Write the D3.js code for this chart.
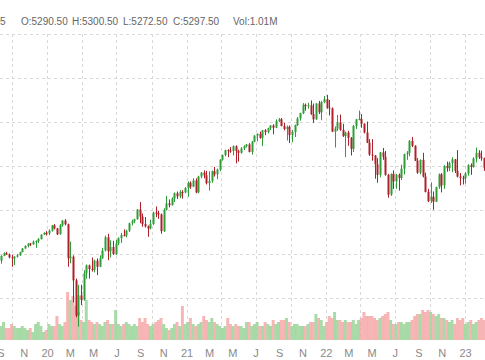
<!DOCTYPE html>
<html><head><meta charset="utf-8">
<script src="https://cdn.jsdelivr.net/npm/d3@7"></script>
<style>body{margin:0;background:#fff}svg{display:block}</style>
</head><body><svg id="c" width="485" height="360"></svg>
<script>
// Weekly bars starting Monday 2019-08-26
const firstWeek = "2019-08-26";
const open = [2866,2924,2979,3009,2995,2962,2952,2970,2985,3021,3062,3092,3119,3109,3141,3146,3169,3220,3240,
3235,3265,3325,3292,3224,3327,3380,3338,2951,2970,2700,2300,2530,2480,2780,2870,2830,2820,2925,2855,2950,3040,3190,3030,3080,3000,3120,3180,3215,3210,3265,3350,3370,3395,3505,3425,3340,3315,3290,3340,3470,3465,3450,3260,3500,3575,3555,3630,3690,3655,3705,3700,
3750,3810,3765,3835,3700,3880,3925,3895,3805,3830,3940,3905,3960,4070,4125,4180,4175,4170,4225,4170,4150,4200,4225,4245,4160,4275,4345,4365,4320,4405,4385,4430,4460,4435,4510,4530,4455,4420,4445,4350,4385,4465,4540,4600,4695,4680,4690,4590,4530,4710,4610,4725,
4760,4665,4655,4390,4425,4495,4410,4340,4380,4320,4195,4455,4530,4535,4480,4380,4265,4130,4120,4020,3900,4155,4105,3900,3675,3910,3825,3900,3865,3970,4135,4150,4285,4230,4060,3925,4070,3880,3705,3600,3650,3595,3760,3905,3780,4000,3975,4035,4075,3945,3880,3865,
3860,3915,4010,3990,4085,4150,4100,4090,3980,4055];
const high = [2945,2985,3020,3025,3005,2990,2975,3000,3026,3068,3098,3123,3125,3154,3156,3182,3225,3248,3260,
3280,3330,3340,3295,3340,3385,3397,3345,3140,2985,2720,2650,2650,2815,2880,2880,2960,2935,2950,2985,3070,3210,3230,3155,3150,3160,3190,3240,3280,3275,3355,3390,3400,3510,3590,3460,3420,3325,3390,3480,3540,3490,3460,3520,3660,3620,3645,3700,3710,3725,3725,3760,
3825,3825,3860,3860,3890,3930,3950,3945,3940,3950,3990,3970,4080,4130,4185,4190,4215,4235,4235,4185,4215,4235,4250,4260,4285,4350,4370,4390,4410,4420,4435,4465,4475,4530,4545,4545,4490,4460,4460,4410,4470,4555,4605,4715,4710,4720,4745,4710,4715,4740,4740,4795,
4808,4750,4665,4450,4580,4585,4480,4390,4400,4330,4465,4535,4630,4590,4485,4505,4305,4305,4125,4090,4160,4205,4170,3910,3915,3950,3910,3915,4015,4140,4170,4295,4330,4235,4090,4075,4150,3925,3740,3815,3710,3765,3915,3920,4010,4050,4050,4100,4080,4180,3920,3890,
3930,4020,4030,4100,4210,4180,4175,4095,4060,4080];
const low = [2852,2890,2975,2990,2950,2855,2873,2960,2980,3020,3060,3075,3090,3105,3070,3125,3165,3215,3210,
3215,3255,3280,3215,3220,3310,3326,2855,2895,2450,2280,2174,2420,2470,2720,2720,2800,2790,2760,2850,2945,3030,2930,2960,2990,2990,3100,3125,3200,3190,3250,3325,3350,3390,3350,3310,3300,3195,3280,3330,3420,3400,3230,3250,3495,3530,3550,3590,3625,3635,3630,3690,
3650,3740,3760,3690,3690,3860,3860,3790,3720,3810,3880,3850,3940,4060,4110,4100,4150,4120,4030,4050,4140,4180,4210,4155,4130,4270,4280,4310,4225,4350,4370,4410,4360,4430,4500,4450,4405,4290,4260,4270,4330,4455,4515,4590,4630,4650,4580,4490,4525,4590,4520,4715,
4650,4575,4385,4210,4400,4400,4330,4100,4230,4120,4160,4420,4520,4435,4370,4260,4115,4060,3855,3810,3870,4070,3890,3640,3660,3740,3740,3720,3840,3905,4070,4110,4215,4055,3910,3905,3870,3700,3590,3580,3502,3590,3740,3700,3740,3935,3940,3930,3920,3870,3780,3790,
3800,3890,3900,3980,4040,4080,4060,3945,3930,3860];
const close = [2924,2979,3009,2995,2962,2952,2970,2985,3021,3062,3092,3119,3109,3141,3146,3169,3220,3240,3235,
3265,3325,3292,3224,3327,3380,3338,2951,2970,2700,2300,2530,2480,2780,2870,2830,2820,2925,2855,2950,3040,3190,3030,3080,3000,3120,3180,3215,3210,3265,3350,3370,3395,3505,3425,3340,3315,3290,3340,3470,3465,3450,3260,3500,3575,3555,3630,3690,3655,3705,3700,3750,
3810,3765,3835,3700,3880,3925,3895,3805,3830,3940,3905,3960,4070,4125,4180,4175,4170,4225,4170,4150,4200,4225,4245,4160,4275,4345,4365,4320,4405,4385,4430,4460,4435,4510,4530,4455,4420,4445,4350,4385,4465,4540,4600,4695,4680,4690,4590,4530,4710,4610,4725,4760,
4665,4655,4390,4425,4495,4410,4340,4380,4320,4195,4455,4530,4535,4480,4380,4265,4130,4120,4020,3900,4155,4105,3900,3675,3910,3825,3900,3865,3970,4135,4150,4285,4230,4060,3925,4070,3880,3705,3600,3650,3595,3760,3905,3780,4000,3975,4035,4075,3945,3880,3865,3860,
3915,4010,3990,4085,4150,4100,4090,3980,4055,3875];
// volume in millions
const volume = [6,7,9,6,6, 8,7,6,6,7, 6,5,6,4,8, 9,7,4,5,8, 7,7,12,8,7, 9,24,20,22,17, 14,10,9,20,10, 9,8,9,8,7,
9,10,8,8,15, 8,7,8,9,8, 7,8,7,11,9, 11,8,7,8,9, 10,11,8,6,5, 6,8,9,7,17, 8,9,11,8,7, 8,9,12,10,9,
11,9,8,7,6, 7,11,8,7,8, 7,7,6,9,9, 7,8,9,7,7, 9,8,7,10,8, 9,10,10,11,9, 7,8,8,7,7, 7,8,9,9,13,
11,10,7,9,12, 11,14,10,10,9, 10,9,9,10,8, 10,11,14,12,12, 12,11,10,11,12, 13,14,10,8,8, 9,9,8,9,9,
10,12,13,13,15, 14,15,14,13,12, 13,11,11,10,9, 10,8,11,10,11, 8,9,10,8,9, 10,11,10,12,12];
const priceTicks = [2500,3000,3500,4000,4500,5000,5500];
const header = [["5",0],["O:5290.50",21],["H:5300.50",72],["L:5272.50",123],["C:5297.50",173],["Vol:1.01M",233]];

const weeks = d3.timeMonday.range(d3.timeParse("%Y-%m-%d")(firstWeek), new Date(2023,2,8));
const data = weeks.map((d,i)=>({d, o:open[i], h:high[i], l:low[i], c:close[i], v:volume[i]}));

const svg = d3.select("#c");
const W = 485;
const x = d3.scaleTime().domain([new Date(2020,0,1), new Date(2023,0,1)]).range([47,465]);
const y = d3.scaleLinear().domain([2500,5500]).range([298,34]);
const yv = d3.scaleLinear().domain([0,25]).range([340,290]);

const gridColor = "#d9d9d9";
// horizontal grid
svg.append("g").selectAll("line").data(priceTicks).join("line")
  .attr("x1",0).attr("x2",W).attr("y1",d=>Math.round(y(d))+0.5).attr("y2",d=>Math.round(y(d))+0.5)
  .attr("stroke",gridColor).attr("stroke-dasharray","3,3");
// vertical grid quarterly
const quarters = d3.timeMonth.every(3).range(new Date(2019,6,1), new Date(2023,3,2));
svg.append("g").selectAll("line").data(quarters).join("line")
  .attr("x1",d=>Math.round(x(d))+0.5).attr("x2",d=>Math.round(x(d))+0.5).attr("y1",34).attr("y2",340)
  .attr("stroke",gridColor).attr("stroke-dasharray","3,3");

const up = "#2f9e3a", down = "#b0202a";
// volume
svg.append("g").selectAll("rect").data(data).join("rect")
  .attr("x",d=>x(d.d)-1.5).attr("width",3)
  .attr("y",d=>yv(d.v)).attr("height",d=>yv(0)-yv(d.v))
  .attr("fill",d=>d.c>=d.o?"#93d293":"#f5a3a3").attr("opacity",0.8);

// candles
const cg = svg.append("g");
cg.selectAll("line").data(data).join("line")
  .attr("x1",d=>Math.round(x(d.d))+0.5).attr("x2",d=>Math.round(x(d.d))+0.5)
  .attr("y1",d=>y(d.h)).attr("y2",d=>y(d.l))
  .attr("stroke",d=>d.c>=d.o?up:down).attr("stroke-width",1);
cg.selectAll("rect").data(data).join("rect")
  .attr("x",d=>Math.round(x(d.d))-0.5).attr("width",2)
  .attr("y",d=>y(Math.max(d.o,d.c))).attr("height",d=>Math.max(1,Math.abs(y(d.o)-y(d.c))))
  .attr("fill",d=>d.c>=d.o?up:down);

// x axis labels
const monthLetters = ["J","F","M","A","M","J","J","A","S","O","N","D"];
const labelTicks = d3.timeMonth.every(2).range(new Date(2019,8,1), new Date(2023,1,2));
const axis = d3.axisBottom(x).tickValues(labelTicks).tickSize(0)
  .tickFormat(d=>d.getMonth()===0 ? d3.timeFormat("%y")(d) : monthLetters[d.getMonth()]);
const ax = svg.append("g").attr("transform","translate(0,346)").call(axis);
ax.select(".domain").remove();
ax.selectAll("text").attr("fill","#8a8a8a").attr("font-size",11).attr("font-family","Arial, 'Liberation Sans', sans-serif");

// header
svg.append("g").selectAll("text").data(header).join("text")
  .attr("x",d=>d[1]).attr("y",25).text(d=>d[0])
  .attr("fill","#666").attr("font-size",10).attr("font-family","Arial, 'Liberation Sans', sans-serif");
</script></body></html>
